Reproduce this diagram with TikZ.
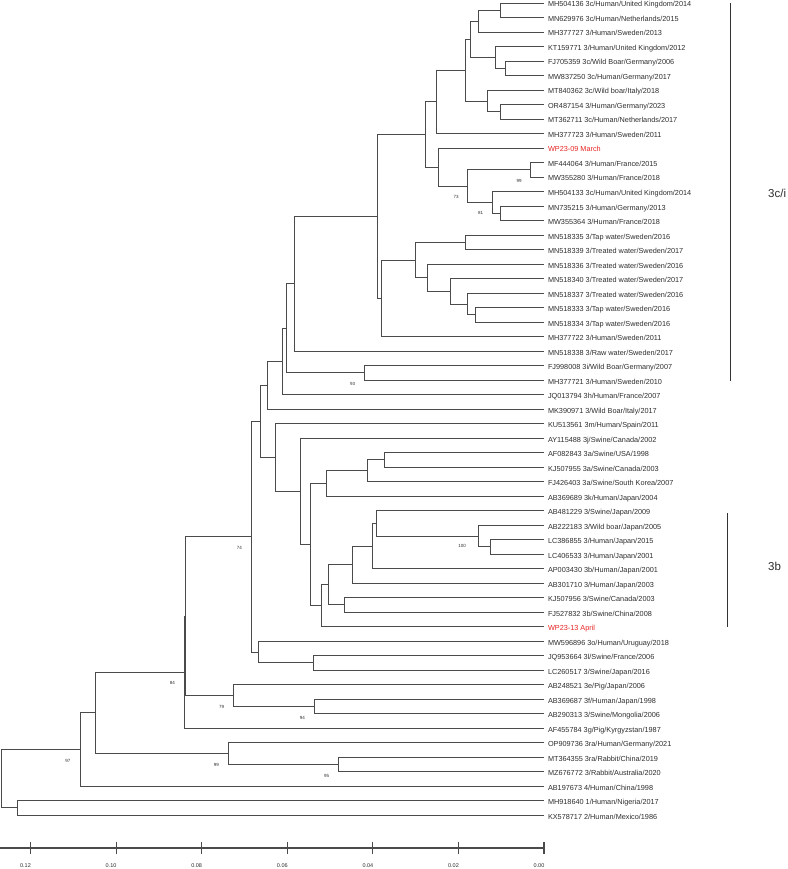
\documentclass[tikz,border=0pt]{standalone}
\usepackage{fontspec}
\setmainfont{Liberation Sans}
\definecolor{wpred}{RGB}{232,35,35}
\definecolor{brc}{RGB}{75,75,75}
\definecolor{txc}{RGB}{45,45,45}
\begin{document}
\begin{tikzpicture}[x=1pt,y=-1pt,
  leaf/.style={anchor=west, inner sep=0pt, outer xsep=4pt, text height=9pt, text depth=1pt, text=txc, font=\fontsize{7.3}{8}\selectfont},
  sample/.style={leaf, text=wpred},
  br/.style={brc, line width=0.6pt},
  boot/.style={inner sep=0pt, text=txc, font=\fontsize{4.5}{5}\selectfont},
  axis/.style={brc, line width=1.1pt},
  bar/.style={black!80, line width=1pt},
  clade/.style={anchor=west, inner sep=0pt, text=txc, font=\fontsize{11.5}{13}\selectfont},
  scl/.style={inner sep=0pt, text=txc, font=\fontsize{5.5}{6}\selectfont}]
\useasboundingbox (0,0) rectangle (787,869);
\node[leaf] (lf1) at (544,3) {MH504136 3c/Human/United Kingdom/2014};
\node[leaf] (lf2) at (544,17.5) {MN629976 3c/Human/Netherlands/2015};
\node[leaf] (lf3) at (544,32) {MH377727 3/Human/Sweden/2013};
\node[leaf] (lf4) at (544,46.5) {KT159771 3/Human/United Kingdom/2012};
\node[leaf] (lf5) at (544,61) {FJ705359 3c/Wild Boar/Germany/2006};
\node[leaf] (lf6) at (544,75.5) {MW837250 3c/Human/Germany/2017};
\node[leaf] (lf7) at (544,90) {MT840362 3c/Wild boar/Italy/2018};
\node[leaf] (lf8) at (544,104.5) {OR487154 3/Human/Germany/2023};
\node[leaf] (lf9) at (544,119) {MT362711 3c/Human/Netherlands/2017};
\node[leaf] (lf10) at (544,133.5) {MH377723 3/Human/Sweden/2011};
\node[sample] (lf11) at (544,148) {WP23-09 March};
\node[leaf] (lf12) at (544,162.5) {MF444064 3/Human/France/2015};
\node[leaf] (lf13) at (544,177) {MW355280 3/Human/France/2018};
\node[leaf] (lf14) at (544,191.5) {MH504133 3c/Human/United Kingdom/2014};
\node[leaf] (lf15) at (544,206) {MN735215 3/Human/Germany/2013};
\node[leaf] (lf16) at (544,220.5) {MW355364 3/Human/France/2018};
\node[leaf] (lf17) at (544,235) {MN518335 3/Tap water/Sweden/2016};
\node[leaf] (lf18) at (544,249.5) {MN518339 3/Treated water/Sweden/2017};
\node[leaf] (lf19) at (544,264) {MN518336 3/Treated water/Sweden/2016};
\node[leaf] (lf20) at (544,278.5) {MN518340 3/Treated water/Sweden/2017};
\node[leaf] (lf21) at (544,293) {MN518337 3/Treated water/Sweden/2016};
\node[leaf] (lf22) at (544,307.5) {MN518333 3/Tap water/Sweden/2016};
\node[leaf] (lf23) at (544,322) {MN518334 3/Tap water/Sweden/2016};
\node[leaf] (lf24) at (544,336.5) {MH377722 3/Human/Sweden/2011};
\node[leaf] (lf25) at (544,351) {MN518338 3/Raw water/Sweden/2017};
\node[leaf] (lf26) at (544,365.5) {FJ998008 3i/Wild Boar/Germany/2007};
\node[leaf] (lf27) at (544,380) {MH377721 3/Human/Sweden/2010};
\node[leaf] (lf28) at (544,394.5) {JQ013794 3h/Human/France/2007};
\node[leaf] (lf29) at (544,409) {MK390971 3/Wild Boar/Italy/2017};
\node[leaf] (lf30) at (544,423.5) {KU513561 3m/Human/Spain/2011};
\node[leaf] (lf31) at (544,438) {AY115488 3j/Swine/Canada/2002};
\node[leaf] (lf32) at (544,452.5) {AF082843 3a/Swine/USA/1998};
\node[leaf] (lf33) at (544,467) {KJ507955 3a/Swine/Canada/2003};
\node[leaf] (lf34) at (544,481.5) {FJ426403 3a/Swine/South Korea/2007};
\node[leaf] (lf35) at (544,496) {AB369689 3k/Human/Japan/2004};
\node[leaf] (lf36) at (544,510.5) {AB481229 3/Swine/Japan/2009};
\node[leaf] (lf37) at (544,525) {AB222183 3/Wild boar/Japan/2005};
\node[leaf] (lf38) at (544,539.5) {LC386855 3/Human/Japan/2015};
\node[leaf] (lf39) at (544,554) {LC406533 3/Human/Japan/2001};
\node[leaf] (lf40) at (544,568.5) {AP003430 3b/Human/Japan/2001};
\node[leaf] (lf41) at (544,583) {AB301710 3/Human/Japan/2003};
\node[leaf] (lf42) at (544,597.5) {KJ507956 3/Swine/Canada/2003};
\node[leaf] (lf43) at (544,612) {FJ527832 3b/Swine/China/2008};
\node[sample] (lf44) at (544,626.5) {WP23-13 April};
\node[leaf] (lf45) at (544,641) {MW596896 3o/Human/Uruguay/2018};
\node[leaf] (lf46) at (544,655.5) {JQ953664 3l/Swine/France/2006};
\node[leaf] (lf47) at (544,670) {LC260517 3/Swine/Japan/2016};
\node[leaf] (lf48) at (544,684.5) {AB248521 3e/Pig/Japan/2006};
\node[leaf] (lf49) at (544,699) {AB369687 3f/Human/Japan/1998};
\node[leaf] (lf50) at (544,713.5) {AB290313 3/Swine/Mongolia/2006};
\node[leaf] (lf51) at (544,728) {AF455784 3g/Pig/Kyrgyzstan/1987};
\node[leaf] (lf52) at (544,742.5) {OP909736 3ra/Human/Germany/2021};
\node[leaf] (lf53) at (544,757) {MT364355 3ra/Rabbit/China/2019};
\node[leaf] (lf54) at (544,771.5) {MZ676772 3/Rabbit/Australia/2020};
\node[leaf] (lf55) at (544,786) {AB197673 4/Human/China/1998};
\node[leaf] (lf56) at (544,800.5) {MH918640 1/Human/Nigeria/2017};
\node[leaf] (lf57) at (544,815) {KX578717 2/Human/Mexico/1986};
\coordinate (nda) at (500.7,10.25);
\coordinate (ndb) at (478.3,21.1);
\coordinate (ndc) at (505.7,68.25);
\coordinate (ndd) at (495.7,57.4);
\coordinate (nde) at (470.7,39.25);
\coordinate (ndf) at (500.7,111.75);
\coordinate (ndg) at (487.7,100.9);
\coordinate (ndh) at (465,70.1);
\coordinate (ndi) at (436.7,101.8);
\coordinate (ndj) at (530,169.75);
\coordinate (ndk) at (500.7,213.25);
\coordinate (ndl) at (492.7,202.4);
\coordinate (ndm) at (467.7,186.1);
\coordinate (ndn) at (438.3,167.05);
\coordinate (ndo) at (425.5,134.4);
\coordinate (ndp) at (465.5,242.25);
\coordinate (ndq) at (475,314.75);
\coordinate (ndr) at (467.7,303.9);
\coordinate (nds) at (450.5,291.2);
\coordinate (ndt) at (427.3,277.6);
\coordinate (ndu) at (415,259.9);
\coordinate (ndv) at (381.7,298.2);
\coordinate (ndw) at (377.3,216.3);
\coordinate (ndx) at (294.3,283.65);
\coordinate (ndy) at (364.7,372.75);
\coordinate (ndz) at (286.7,328.2);
\coordinate (ndaa) at (282.7,361.35);
\coordinate (ndab) at (267.3,385.2);
\coordinate (ndac) at (384.7,459.75);
\coordinate (ndad) at (367.3,470.6);
\coordinate (ndae) at (326,483.3);
\coordinate (ndaf) at (490.3,546.75);
\coordinate (ndag) at (478.3,535.9);
\coordinate (ndah) at (376.7,523.2);
\coordinate (ndai) at (372,545.85);
\coordinate (ndaj) at (352.3,564.4);
\coordinate (ndak) at (344.7,604.75);
\coordinate (ndal) at (328.3,584.6);
\coordinate (ndam) at (321.3,605.55);
\coordinate (ndan) at (310.7,544.4);
\coordinate (ndao) at (300.3,491.2);
\coordinate (ndap) at (275.7,457.35);
\coordinate (ndaq) at (260.3,421.3);
\coordinate (ndar) at (313.3,662.75);
\coordinate (ndas) at (258,651.9);
\coordinate (ndat) at (251.3,536.6);
\coordinate (ndau) at (314.3,706.25);
\coordinate (ndav) at (233.3,695.4);
\coordinate (ndaw) at (185.7,616);
\coordinate (ndax) at (184.3,672);
\coordinate (nday) at (338.3,764.25);
\coordinate (ndaz) at (228.3,753.4);
\coordinate (ndba) at (95.7,712.7);
\coordinate (ndbb) at (80,749.35);
\coordinate (ndbc) at (17.3,807.75);
\coordinate (root) at (1,778.55);
\draw[br](nda) |- (lf1.west);
\draw[br](nda) |- (lf2.west);
\draw[br](ndb) |- (nda);
\draw[br](ndb) |- (lf3.west);
\draw[br](ndc) |- (lf5.west);
\draw[br](ndc) |- (lf6.west);
\draw[br](ndd) |- (lf4.west);
\draw[br](ndd) |- (ndc);
\draw[br](nde) |- (ndb);
\draw[br](nde) |- (ndd);
\draw[br](ndf) |- (lf8.west);
\draw[br](ndf) |- (lf9.west);
\draw[br](ndg) |- (lf7.west);
\draw[br](ndg) |- (ndf);
\draw[br](ndh) |- (nde);
\draw[br](ndh) |- (ndg);
\draw[br](ndi) |- (ndh);
\draw[br](ndi) |- (lf10.west);
\draw[br](ndj) |- (lf12.west);
\draw[br](ndj) |- (lf13.west);
\draw[br](ndk) |- (lf15.west);
\draw[br](ndk) |- (lf16.west);
\draw[br](ndl) |- (lf14.west);
\draw[br](ndl) |- (ndk);
\draw[br](ndm) |- (ndj);
\draw[br](ndm) |- (ndl);
\draw[br](ndn) |- (lf11.west);
\draw[br](ndn) |- (ndm);
\draw[br](ndo) |- (ndi);
\draw[br](ndo) |- (ndn);
\draw[br](ndp) |- (lf17.west);
\draw[br](ndp) |- (lf18.west);
\draw[br](ndq) |- (lf22.west);
\draw[br](ndq) |- (lf23.west);
\draw[br](ndr) |- (lf21.west);
\draw[br](ndr) |- (ndq);
\draw[br](nds) |- (lf20.west);
\draw[br](nds) |- (ndr);
\draw[br](ndt) |- (lf19.west);
\draw[br](ndt) |- (nds);
\draw[br](ndu) |- (ndp);
\draw[br](ndu) |- (ndt);
\draw[br](ndv) |- (ndu);
\draw[br](ndv) |- (lf24.west);
\draw[br](ndw) |- (ndo);
\draw[br](ndw) |- (ndv);
\draw[br](ndx) |- (ndw);
\draw[br](ndx) |- (lf25.west);
\draw[br](ndy) |- (lf26.west);
\draw[br](ndy) |- (lf27.west);
\draw[br](ndz) |- (ndx);
\draw[br](ndz) |- (ndy);
\draw[br](ndaa) |- (ndz);
\draw[br](ndaa) |- (lf28.west);
\draw[br](ndab) |- (ndaa);
\draw[br](ndab) |- (lf29.west);
\draw[br](ndac) |- (lf32.west);
\draw[br](ndac) |- (lf33.west);
\draw[br](ndad) |- (ndac);
\draw[br](ndad) |- (lf34.west);
\draw[br](ndae) |- (ndad);
\draw[br](ndae) |- (lf35.west);
\draw[br](ndaf) |- (lf38.west);
\draw[br](ndaf) |- (lf39.west);
\draw[br](ndag) |- (lf37.west);
\draw[br](ndag) |- (ndaf);
\draw[br](ndah) |- (lf36.west);
\draw[br](ndah) |- (ndag);
\draw[br](ndai) |- (ndah);
\draw[br](ndai) |- (lf40.west);
\draw[br](ndaj) |- (ndai);
\draw[br](ndaj) |- (lf41.west);
\draw[br](ndak) |- (lf42.west);
\draw[br](ndak) |- (lf43.west);
\draw[br](ndal) |- (ndaj);
\draw[br](ndal) |- (ndak);
\draw[br](ndam) |- (ndal);
\draw[br](ndam) |- (lf44.west);
\draw[br](ndan) |- (ndae);
\draw[br](ndan) |- (ndam);
\draw[br](ndao) |- (lf31.west);
\draw[br](ndao) |- (ndan);
\draw[br](ndap) |- (lf30.west);
\draw[br](ndap) |- (ndao);
\draw[br](ndaq) |- (ndab);
\draw[br](ndaq) |- (ndap);
\draw[br](ndar) |- (lf46.west);
\draw[br](ndar) |- (lf47.west);
\draw[br](ndas) |- (lf45.west);
\draw[br](ndas) |- (ndar);
\draw[br](ndat) |- (ndaq);
\draw[br](ndat) |- (ndas);
\draw[br](ndau) |- (lf49.west);
\draw[br](ndau) |- (lf50.west);
\draw[br](ndav) |- (lf48.west);
\draw[br](ndav) |- (ndau);
\draw[br](ndaw) |- (ndat);
\draw[br](ndaw) |- (ndav);
\draw[br](ndax) |- (ndaw);
\draw[br](ndax) |- (lf51.west);
\draw[br](nday) |- (lf53.west);
\draw[br](nday) |- (lf54.west);
\draw[br](ndaz) |- (lf52.west);
\draw[br](ndaz) |- (nday);
\draw[br](ndba) |- (ndax);
\draw[br](ndba) |- (ndaz);
\draw[br](ndbb) |- (ndba);
\draw[br](ndbb) |- (lf55.west);
\draw[br](ndbc) |- (lf56.west);
\draw[br](ndbc) |- (lf57.west);
\draw[br](root) |- (ndbb);
\draw[br](root) |- (ndbc);
\node[boot] (bs99a) at (519,180.5) {99};
\node[boot] (bs73) at (456,196.5) {73};
\node[boot] (bs81) at (480.7,213) {81};
\node[boot] (bs93) at (352.7,383.5) {93};
\node[boot] (bs100) at (462,546) {100};
\node[boot] (bs74) at (239.3,547.5) {74};
\node[boot] (bs84) at (172.3,683) {84};
\node[boot] (bs79) at (221.7,706.7) {79};
\node[boot] (bs94) at (302.3,717.7) {94};
\node[boot] (bs99b) at (216.3,765) {99};
\node[boot] (bs95) at (326.7,775.7) {95};
\node[boot] (bs97) at (68,760.7) {97};
\coordinate (cb1a) at (730,3);
\coordinate (cb1b) at (730,381);
\coordinate (cb2a) at (727.3,513);
\coordinate (cb2b) at (727.3,627);
\draw[bar](cb1a) -- (cb1b);
\draw[bar](cb2a) -- (cb2b);
\node[clade] (cl3c) at (768,193) {3c/i};
\node[clade] (cl3b) at (768,566) {3b};
\draw[axis](0,848) -- (544,848);
\draw[axis](30.5,842) -- (30.5,854);
\draw[axis](116.1,842) -- (116.1,854);
\draw[axis](201.7,842) -- (201.7,854);
\draw[axis](287.3,842) -- (287.3,854);
\draw[axis](372.9,842) -- (372.9,854);
\draw[axis](458.5,842) -- (458.5,854);
\draw[axis](544,842) -- (544,854);
\node[scl] (sc12) at (25.5,866) {0.12};
\node[scl] (sc10) at (111.1,866) {0.10};
\node[scl] (sc08) at (196.7,866) {0.08};
\node[scl] (sc06) at (282.3,866) {0.06};
\node[scl] (sc04) at (367.9,866) {0.04};
\node[scl] (sc02) at (453.5,866) {0.02};
\node[scl] (sc00) at (539,866) {0.00};
\end{tikzpicture}
\end{document}
